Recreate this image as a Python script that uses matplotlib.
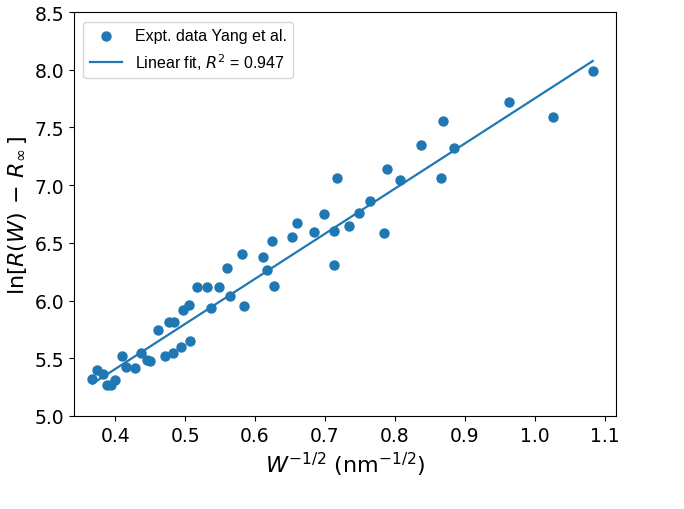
import numpy as np
import matplotlib
matplotlib.use("Agg")
import matplotlib.pyplot as plt

# Data (W^-1/2 in nm^-1/2, ln[R(W) - R_inf])
w_inv_sqrt = [0.3675, 0.374, 0.3827, 0.389, 0.3947, 0.3999, 0.4104, 0.4162, 0.429, 0.4376,
              0.446, 0.4505, 0.461, 0.4714, 0.477, 0.4843, 0.4834, 0.4943, 0.4967, 0.5058,
              0.5067, 0.5177, 0.531, 0.5368, 0.5487, 0.560, 0.5644, 0.5811, 0.5844, 0.6112,
              0.6169, 0.624, 0.6269, 0.6522, 0.6598, 0.6837, 0.6989, 0.7123, 0.7127, 0.7346,
              0.717, 0.7489, 0.7647, 0.7847, 0.7881, 0.8067, 0.8368, 0.8663, 0.8682, 0.884,
              0.9631, 1.026, 1.0828]
ln_r = [5.321, 5.401, 5.364, 5.269, 5.269, 5.309, 5.517, 5.427, 5.419, 5.546,
        5.488, 5.477, 5.748, 5.517, 5.817, 5.817, 5.546, 5.598, 5.921, 5.962,
        5.652, 6.120, 6.120, 5.933, 6.120, 6.283, 6.043, 6.401, 5.951, 6.375,
        6.263, 6.514, 6.124, 6.549, 6.675, 6.592, 6.748, 6.601, 6.308, 6.649,
        7.062, 6.756, 6.860, 6.588, 7.140, 7.048, 7.348, 7.065, 7.556, 7.325,
        7.724, 7.588, 7.987]
# Linear fit parameters
fit_slope = 3.909
fit_intercept = 3.843
r_squared = 0.947

x = np.array(w_inv_sqrt)
y = np.array(ln_r)
xfit = np.array([x.min(), x.max()])
yfit = fit_slope * xfit + fit_intercept

fig = plt.figure(figsize=(6.84, 5.10), dpi=100)
ax = fig.add_axes([0.108, 0.1824, 0.7926, 0.7921])

color = '#1f77b4'
ax.scatter(x, y, s=42, color=color, label='Expt. data Yang et al.', zorder=3)
ax.plot(xfit, yfit, color=color, lw=1.6, label=f'Linear fit, $R^2$ = {r_squared:.3f}', zorder=2)

ax.set_xlim(0.341, 1.116)
ax.set_ylim(5.0, 8.5)
ax.set_xticks([0.4, 0.5, 0.6, 0.7, 0.8, 0.9, 1.0, 1.1])
ax.set_yticks([5.0, 5.5, 6.0, 6.5, 7.0, 7.5, 8.0, 8.5])
ax.tick_params(labelsize=13.5)

ax.set_xlabel(r'$W^{-1/2}$ (nm$^{-1/2}$)', fontsize=16)
ax.set_ylabel(r'$\ln[R(W)\,-\,R_\infty\,]$', fontsize=16)

ax.legend(loc='upper left', prop={'family': 'Liberation Sans', 'size': 11.5},
          borderaxespad=0.6)

fig.savefig('out.png', dpi=100)
